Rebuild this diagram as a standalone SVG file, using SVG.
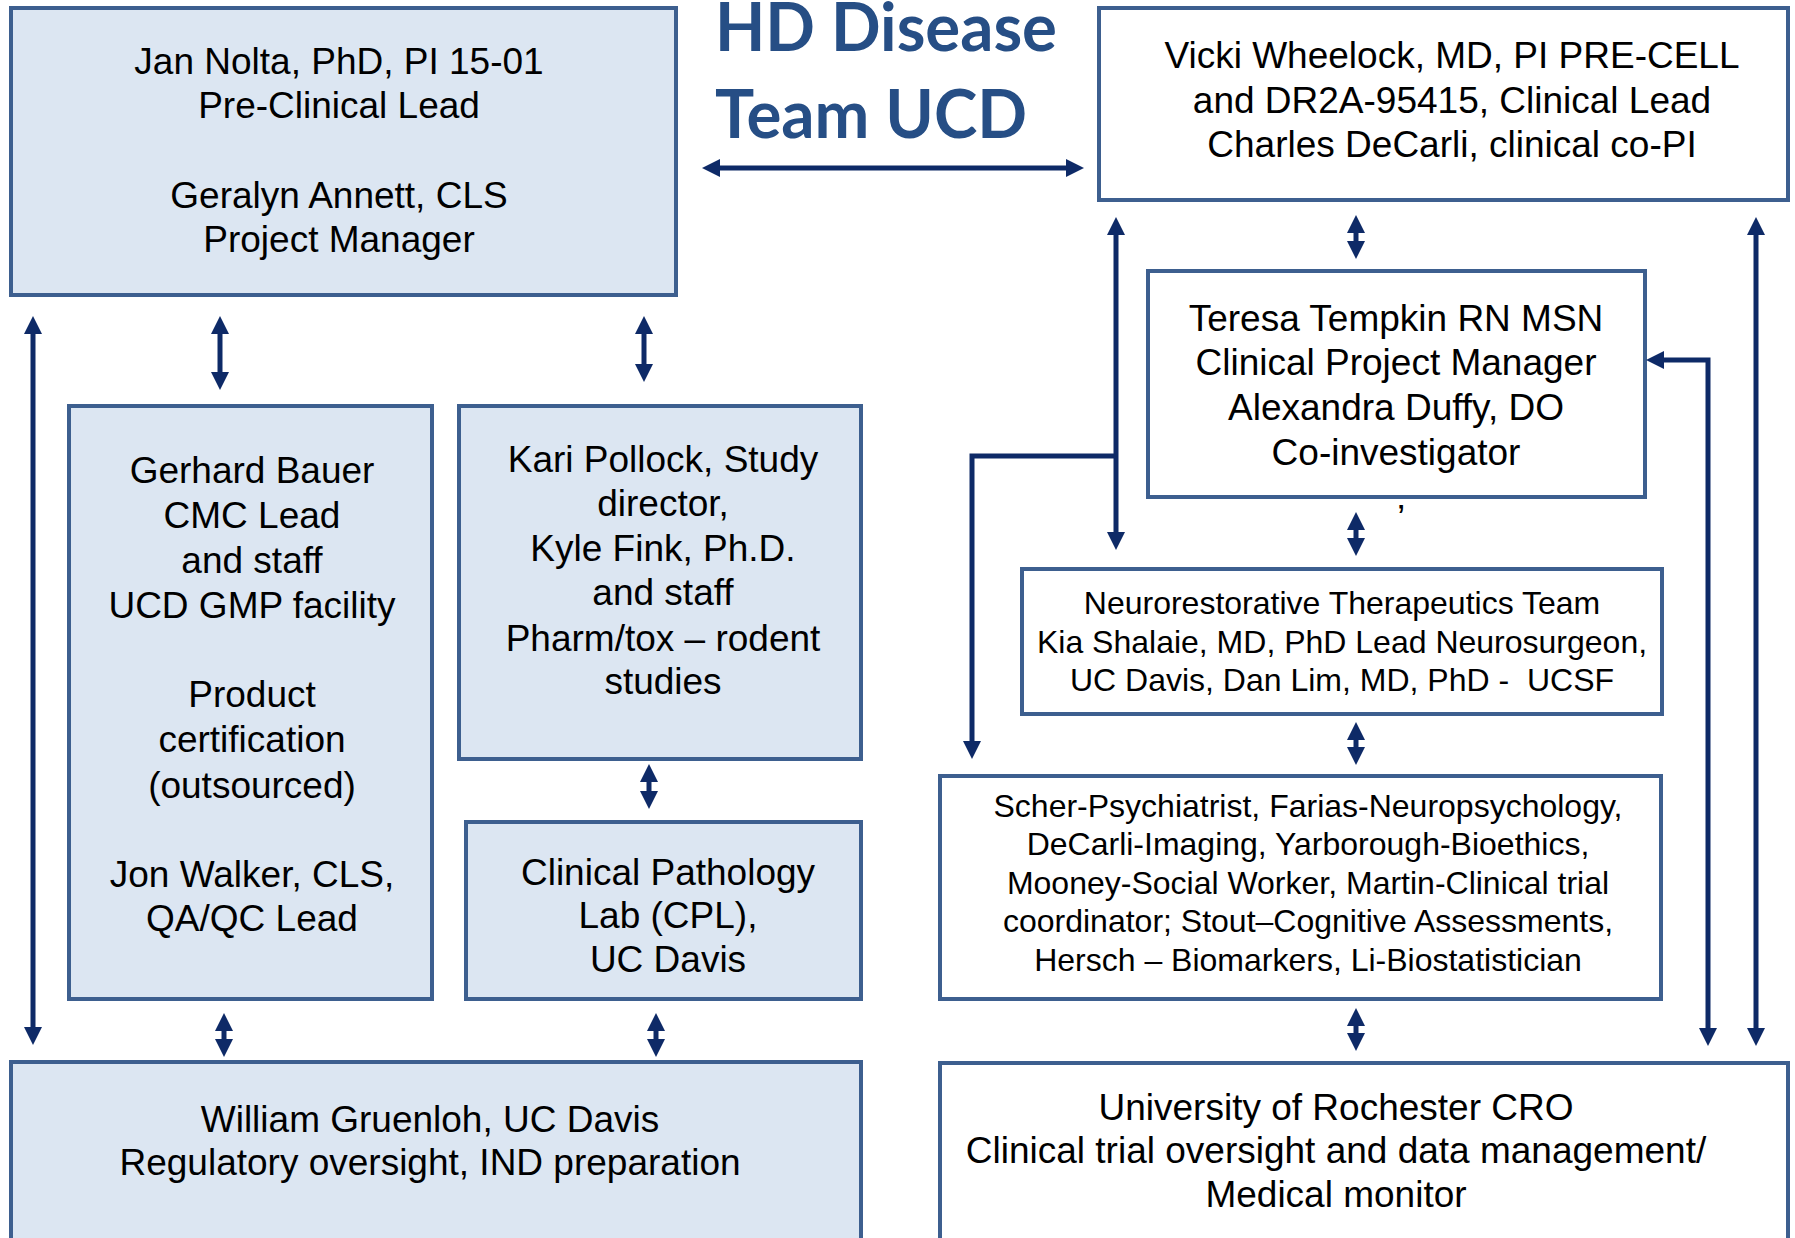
<svg xmlns="http://www.w3.org/2000/svg" width="1795" height="1238" viewBox="0 0 1795 1238">
<style>
.blue{fill:#DCE6F2;stroke:#3D5F8F;stroke-width:4}
.white{fill:#FFFFFF;stroke:#3D5F8F;stroke-width:4}
.t{font-family:"Liberation Sans",Arial,sans-serif;font-size:37px;fill:#000;text-anchor:middle}
.s{font-size:32px}
.title{font-family:Lato,"Open Sans",sans-serif;font-weight:700;font-size:66px;fill:#264E85}
.c{stroke:#0E2A67;stroke-width:5;fill:none;marker-start:url(#ah);marker-end:url(#ah)}
.e{stroke:#0E2A67;stroke-width:5;fill:none;marker-end:url(#ah)}
</style>
<defs>
<marker id="ah" viewBox="0 0 18 18" markerWidth="18" markerHeight="18" refX="1" refY="9" orient="auto-start-reverse" markerUnits="userSpaceOnUse">
<path d="M0,0 L18,9 L0,18 z" fill="#0E2A67"/>
</marker>
</defs>
<rect width="1795" height="1238" fill="#FFFFFF"/>

<g id="title">
<text class="title" x="715" y="51" textLength="342" lengthAdjust="spacingAndGlyphs">HD Disease</text>
<text class="title" x="715" y="138" textLength="312" lengthAdjust="spacingAndGlyphs">Team UCD</text>
</g>

<g id="node-nolta">
<rect class="blue" x="11" y="8" width="665" height="287"/>
<text class="t" x="339" y="74">Jan Nolta, PhD, PI 15-01</text>
<text class="t" x="339" y="118">Pre-Clinical Lead</text>
<text class="t" x="339" y="208">Geralyn Annett, CLS</text>
<text class="t" x="339" y="252">Project Manager</text>
</g>

<g id="node-wheelock">
<rect class="white" x="1099" y="8" width="689" height="192"/>
<text class="t" x="1452" y="68">Vicki Wheelock, MD, PI PRE-CELL</text>
<text class="t" x="1452" y="113">and DR2A-95415, Clinical Lead</text>
<text class="t" x="1452" y="157">Charles DeCarli, clinical co-PI</text>
</g>

<g id="node-bauer">
<rect class="blue" x="69" y="406" width="363" height="593"/>
<text class="t" x="252" y="483">Gerhard Bauer</text>
<text class="t" x="252" y="528">CMC Lead</text>
<text class="t" x="252" y="573">and staff</text>
<text class="t" x="252" y="618">UCD GMP facility</text>
<text class="t" x="252" y="707">Product</text>
<text class="t" x="252" y="752">certification</text>
<text class="t" x="252" y="798">(outsourced)</text>
<text class="t" x="252" y="887">Jon Walker, CLS,</text>
<text class="t" x="252" y="931">QA/QC Lead</text>
</g>

<g id="node-pollock">
<rect class="blue" x="459" y="406" width="402" height="353"/>
<text class="t" x="663" y="472">Kari Pollock, Study</text>
<text class="t" x="663" y="516">director,</text>
<text class="t" x="663" y="561">Kyle Fink, Ph.D.</text>
<text class="t" x="663" y="605">and staff</text>
<text class="t" x="663" y="651">Pharm/tox – rodent</text>
<text class="t" x="663" y="694">studies</text>
</g>

<g id="node-cpl">
<rect class="blue" x="466" y="822" width="395" height="177"/>
<text class="t" x="668" y="885">Clinical Pathology</text>
<text class="t" x="668" y="928">Lab (CPL),</text>
<text class="t" x="668" y="972">UC Davis</text>
</g>

<g id="node-gruenloh">
<rect class="blue" x="11" y="1062" width="850" height="200"/>
<text class="t" x="430" y="1132">William Gruenloh, UC Davis</text>
<text class="t" x="430" y="1175">Regulatory oversight, IND preparation</text>
</g>

<g id="node-tempkin">
<rect class="white" x="1148" y="271" width="497" height="226"/>
<text class="t" x="1396" y="331">Teresa Tempkin RN MSN</text>
<text class="t" x="1396" y="375">Clinical Project Manager</text>
<text class="t" x="1396" y="420">Alexandra Duffy, DO</text>
<text class="t" x="1396" y="465">Co-investigator</text>
</g>

<g id="stray-mark">
<text class="t" x="1401" y="531">’</text>
</g>

<g id="node-neuro">
<rect class="white" x="1022" y="569" width="640" height="145"/>
<text class="t s" x="1342" y="614">Neurorestorative Therapeutics Team</text>
<text class="t s" x="1342" y="653">Kia Shalaie, MD, PhD Lead Neurosurgeon,</text>
<text class="t s" x="1342" y="691" xml:space="preserve">UC Davis, Dan Lim, MD, PhD -  UCSF</text>
</g>

<g id="node-team">
<rect class="white" x="940" y="776" width="721" height="223"/>
<text class="t s" x="1308" y="817">Scher-Psychiatrist, Farias-Neuropsychology,</text>
<text class="t s" x="1308" y="855">DeCarli-Imaging, Yarborough-Bioethics,</text>
<text class="t s" x="1308" y="894">Mooney-Social Worker, Martin-Clinical trial</text>
<text class="t s" x="1308" y="932">coordinator; Stout–Cognitive Assessments,</text>
<text class="t s" x="1308" y="971">Hersch – Biomarkers, Li-Biostatistician</text>
</g>

<g id="node-rochester">
<rect class="white" x="940" y="1063" width="848" height="200"/>
<text class="t" x="1336" y="1120">University of Rochester CRO</text>
<text class="t" x="1336" y="1163">Clinical trial oversight and data management/</text>
<text class="t" x="1336" y="1207">Medical monitor</text>
</g>

<g id="connectors">
<path class="c" d="M719,168 H1067"/>
<path class="c" d="M33,333 V1028"/>
<path class="c" d="M220,333 V373"/>
<path class="c" d="M644,333 V365"/>
<path class="c" d="M649,781 V792"/>
<path class="c" d="M224,1030 V1040"/>
<path class="c" d="M656,1030 V1040"/>
<path class="c" d="M1356,232 V242"/>
<path class="c" d="M1116,234 V533"/>
<path class="e" d="M1116,456 H972 V742"/>
<path class="c" d="M1756,234 V1029"/>
<path class="c" d="M1663,360 H1708 V1029"/>
<path class="c" d="M1356,529 V539"/>
<path class="c" d="M1356,739 V748"/>
<path class="c" d="M1356,1025 V1034"/>
</g>
</svg>
